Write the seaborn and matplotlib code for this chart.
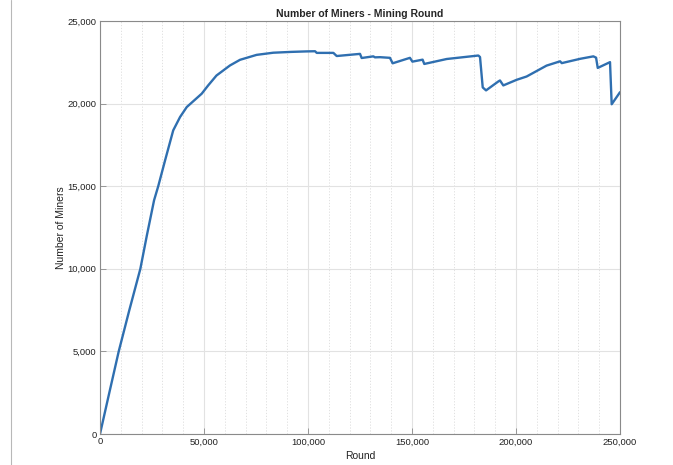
import matplotlib
matplotlib.use("Agg")
import matplotlib.pyplot as plt
from matplotlib.ticker import FuncFormatter, MultipleLocator
from matplotlib.lines import Line2D
import seaborn as sns
import pandas as pd

rounds = [0, 4300, 9000, 14000, 19400, 22500, 26000, 28000, 31300, 35200,
          38500, 41700, 45700, 48900, 52000, 56000, 62500, 67300, 75300, 83300,
          92000, 99400, 103400, 104200, 112200, 113800, 125000, 125800, 131400,
          132200, 134600, 139400, 140700, 149000, 150200, 155100, 155900, 166700,
          181900, 182700, 184000, 185600, 191500, 192300, 193900, 200300, 205100,
          214700, 221200, 222000, 230800, 237200, 238500, 239300, 245200, 246000,
          250000]
miners = [0, 2400, 5000, 7450, 10000, 12000, 14150, 15000, 16570, 18380,
          19190, 19790, 20240, 20600, 21100, 21700, 22310, 22650, 22950, 23080,
          23130, 23160, 23170, 23070, 23070, 22880, 23010, 22760, 22860,
          22800, 22810, 22770, 22440, 22770, 22540, 22660, 22400, 22700,
          22910, 22820, 20980, 20800, 21340, 21400, 21100, 21440, 21640,
          22300, 22560, 22450, 22710, 22860, 22780, 22160, 22510, 19960,
          20690]

title = "Number of Miners - Mining Round"
xlabel = "Round"
ylabel = "Number of Miners"

sns.set_style("white")
plt.rcParams['font.family'] = ['Liberation Sans', 'DejaVu Sans']

df = pd.DataFrame({"Round": rounds, "Miners": miners})

fig = plt.figure(figsize=(6.73, 4.65), dpi=100)
ax = fig.add_axes([100/673, 1-434/465, 520/673, 413/465])

sns.lineplot(data=df, x="Round", y="Miners", ax=ax, color="#2F6FB0",
             linewidth=1.7, estimator=None, sort=False)

ax.set_xlim(0, 250000)
ax.set_ylim(0, 25000)
ax.xaxis.set_major_locator(MultipleLocator(50000))
ax.xaxis.set_minor_locator(MultipleLocator(10000))
ax.yaxis.set_major_locator(MultipleLocator(5000))
fmt = FuncFormatter(lambda v, p: f"{int(v):,}")
ax.xaxis.set_major_formatter(fmt)
ax.yaxis.set_major_formatter(fmt)

ax.grid(which="major", color="#e2e2e2", linewidth=0.8, linestyle="-")
ax.grid(which="minor", axis="x", color="#dcdcdc", linewidth=0.6, linestyle=(0, (1.5, 2)))
ax.set_axisbelow(True)

for s in ax.spines.values():
    s.set_visible(True)
    s.set_color("#8a8a8a")
    s.set_linewidth(0.8)

ax.tick_params(which="major", direction="in", length=4, width=0.6, color="#8a8a8a",
               labelsize=6.8, labelcolor="#222222", pad=2.5)
ax.tick_params(which="minor", length=0)
ax.tick_params(axis="x", bottom=True, top=False)
ax.tick_params(axis="y", left=True, right=False)

ax.set_title(title, fontsize=7.5, fontweight="bold", pad=3)
ax.set_xlabel(xlabel, fontsize=7.5, labelpad=3, color="#222222")
ax.set_ylabel(ylabel, fontsize=7.5, labelpad=1, color="#222222")

fig.add_artist(Line2D([11.5/673, 11.5/673], [0, 1], transform=fig.transFigure,
                      color="#b8b8b8", linewidth=0.8))

fig.savefig("out.png", dpi=100)
